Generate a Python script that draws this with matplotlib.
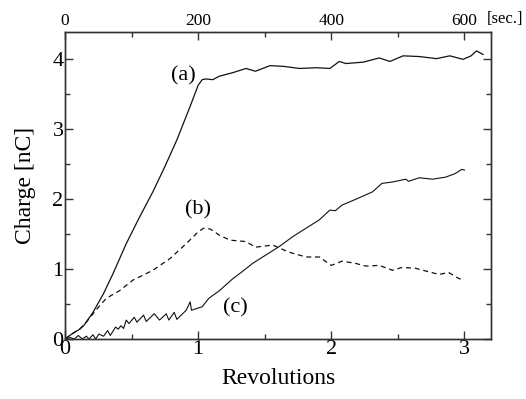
import numpy as np
import matplotlib
matplotlib.use('Agg')
import matplotlib.pyplot as plt
from matplotlib.ticker import MultipleLocator

plt.rcParams['font.family'] = ['Liberation Serif', 'DejaVu Serif']
plt.rcParams['mathtext.fontset'] = 'stix'

# curve (a)
a_x = [0, 0.05, 0.11, 0.14, 0.21, 0.29, 0.36, 0.46, 0.56, 0.66, 0.75, 0.84, 0.94, 1.0,
       1.03, 1.06, 1.11, 1.16, 1.26, 1.36, 1.43, 1.54, 1.64, 1.76, 1.89, 1.99, 2.06,
       2.11, 2.24, 2.36, 2.44, 2.54, 2.66, 2.79, 2.89, 2.99, 3.05, 3.09, 3.14]
a_y = [0, 0.07, 0.14, 0.19, 0.38, 0.65, 0.93, 1.36, 1.74, 2.10, 2.46, 2.84, 3.32, 3.62,
       3.70, 3.71, 3.70, 3.75, 3.80, 3.86, 3.82, 3.90, 3.89, 3.86, 3.87, 3.86, 3.96,
       3.93, 3.95, 4.01, 3.96, 4.04, 4.03, 4.00, 4.04, 3.99, 4.04, 4.11, 4.06]

# curve (b), dashed
b_x = [0, 0.05, 0.11, 0.16, 0.24, 0.31, 0.41, 0.51, 0.66, 0.79, 0.91, 0.99, 1.04, 1.09,
       1.16, 1.24, 1.36, 1.43, 1.56, 1.68, 1.81, 1.91, 2.0, 2.08, 2.18, 2.26, 2.36,
       2.46, 2.53, 2.63, 2.73, 2.81, 2.88, 2.96, 3.0]
b_y = [0, 0.07, 0.14, 0.24, 0.43, 0.58, 0.69, 0.84, 0.98, 1.15, 1.36, 1.51, 1.58, 1.57,
       1.48, 1.41, 1.39, 1.31, 1.34, 1.24, 1.17, 1.17, 1.05, 1.11, 1.08, 1.04, 1.05,
       0.98, 1.02, 1.01, 0.96, 0.92, 0.95, 0.86, 0.85]

# curve (c)
c_x = [0, 0.04, 0.07, 0.1, 0.13, 0.16, 0.18, 0.21, 0.23, 0.255, 0.29, 0.32, 0.34, 0.38,
       0.40, 0.42, 0.44, 0.46, 0.48, 0.52, 0.54, 0.59, 0.61, 0.67, 0.71, 0.76, 0.78,
       0.82, 0.84, 0.91, 0.94, 0.95, 1.03, 1.08, 1.16, 1.26, 1.33, 1.41, 1.51, 1.61,
       1.71, 1.81, 1.91, 1.99, 2.03, 2.08, 2.18, 2.31, 2.38, 2.46, 2.56, 2.58, 2.66,
       2.76, 2.86, 2.93, 2.98, 3.0]
c_y = [0, 0.02, 0.0, 0.05, 0.0, 0.04, 0.0, 0.06, 0.0, 0.07, 0.04, 0.12, 0.05, 0.17,
       0.14, 0.19, 0.15, 0.27, 0.22, 0.31, 0.24, 0.34, 0.25, 0.36, 0.27, 0.36, 0.27,
       0.38, 0.28, 0.41, 0.53, 0.41, 0.46, 0.58, 0.69, 0.86, 0.96, 1.08, 1.20, 1.32,
       1.46, 1.58, 1.70, 1.84, 1.83, 1.91, 1.99, 2.10, 2.22, 2.24, 2.28, 2.25, 2.30,
       2.28, 2.31, 2.36, 2.42, 2.41]

sec_ticks = [0, 200, 400, 600]
sec_per_rev = 200

fig = plt.figure(figsize=(5.26, 3.99), dpi=100)
ax = fig.add_axes([0.1236, 0.1504, 0.81, 0.7694])

ax.plot(a_x, a_y, color='#111111', lw=0.9)
ax.plot(b_x, b_y, color='#111111', lw=0.9, linestyle=(0, (4, 3)))
ax.plot(c_x, c_y, color='#111111', lw=0.8)

ax.set_xlim(0, 3.2)
ax.set_ylim(0, 4.38)
ax.xaxis.set_major_locator(MultipleLocator(1))
ax.xaxis.set_minor_locator(MultipleLocator(0.5))
ax.yaxis.set_major_locator(MultipleLocator(1))
ax.yaxis.set_minor_locator(MultipleLocator(0.5))
ax.tick_params(which='both', direction='in', right=True, top=False, labelsize=16,
               width=1.0, color='#333333')
ax.tick_params(which='major', length=6)
ax.tick_params(which='minor', length=3.5)
ax.tick_params(axis='x', pad=1)
ax.tick_params(axis='y', pad=1)
for s in ax.spines.values():
    s.set_linewidth(1.0)
    s.set_color('#333333')

ax.set_xlabel('Revolutions', fontsize=17, labelpad=6)
ax.set_ylabel('Charge [nC]', fontsize=17, labelpad=12)

ax2 = ax.twiny()
ax2.set_xlim(0, 3.2 * sec_per_rev)
ax2.set_xticks(sec_ticks)
ax2.xaxis.set_minor_locator(MultipleLocator(100))
ax2.tick_params(which='both', direction='in', labelsize=12.5, pad=2, width=1.0,
                color='#333333')
ax2.tick_params(which='major', length=6)
ax2.tick_params(which='minor', length=3.5)
for s in ax2.spines.values():
    s.set_linewidth(1.0)
    s.set_color('#333333')
ax2.text(0.99, 1.015, '[sec.]', transform=ax2.transAxes, fontsize=12,
         ha='left', va='bottom')

ax.text(0.89, 3.76, '(a)', fontsize=16, ha='center', va='center')
ax.text(1.0, 1.84, '(b)', fontsize=16, ha='center', va='center')
ax.text(1.28, 0.44, '(c)', fontsize=16, ha='center', va='center')

fig.savefig('out.png', dpi=100)
